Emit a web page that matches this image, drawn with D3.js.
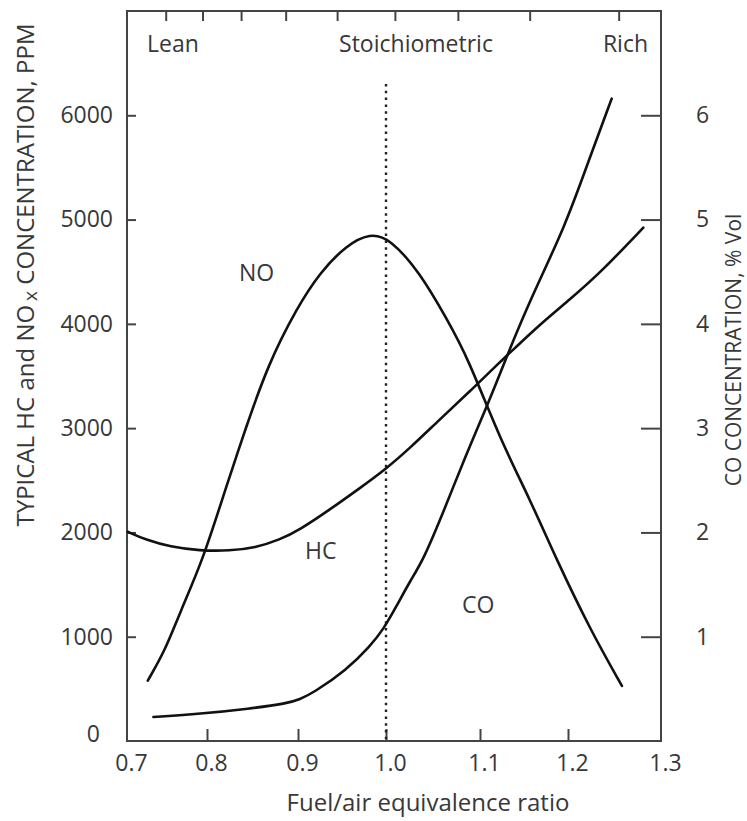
<!DOCTYPE html>
<html>
<head>
<meta charset="utf-8">
<script src="https://cdn.jsdelivr.net/npm/d3@7"></script>
<style>
  body { margin: 0; background: #fff; }
  svg text { font-family: "Open Sans", sans-serif; fill: #383838; }
</style>
</head>
<body>
<script>
// ---- data ----
const xTicks = [0.7, 0.8, 0.9, 1.0, 1.1, 1.2, 1.3];
const leftTicks = [0, 1000, 2000, 3000, 4000, 5000, 6000];
const rightTicks = [1, 2, 3, 4, 5, 6];
// unlabelled ticks along the top edge (equivalence ratio)
const topTicks = [0.749, 0.795, 0.838, 0.887, 0.945, 1.010, 1.077, 1.157, 1.255];

// NO, ppm
const noPhi = [0.726, 0.748, 0.766, 0.795, 0.820, 0.842, 0.867, 0.899, 0.925, 0.955, 0.982, 1.004, 1.036, 1.065, 1.087, 1.123, 1.157, 1.187, 1.224, 1.258];
const noPpm = [579, 874, 1229, 1738, 2410, 2986, 3610, 4157, 4493, 4755, 4870, 4820, 4493, 4042, 3677, 2890, 2314, 1738, 1066, 528];

// HC, ppm
const hcPhi = [0.701, 0.723, 0.754, 0.791, 0.825, 0.853, 0.880, 0.902, 0.936, 0.971, 0.999, 1.026, 1.057, 1.089, 1.123, 1.138, 1.168, 1.202, 1.234, 1.281];
const hcPpm = [2006, 1930, 1862, 1824, 1824, 1853, 1930, 2026, 2218, 2429, 2602, 2813, 3082, 3350, 3638, 3754, 3994, 4234, 4483, 4922];

// CO, % vol
const coPhi = [0.733, 0.791, 0.847, 0.888, 0.902, 0.917, 0.955, 0.982, 0.997, 1.011, 1.026, 1.040, 1.063, 1.084, 1.109, 1.130, 1.157, 1.197, 1.222, 1.247];
const coVol = [0.23, 0.26, 0.31, 0.36, 0.40, 0.46, 0.68, 0.91, 1.07, 1.29, 1.54, 1.74, 2.24, 2.72, 3.23, 3.68, 4.23, 4.94, 5.56, 6.16];

const stoich = 1.0;

// ---- layout ----
const width = 747, height = 821;
const plotLeft = 127, plotRight = 661, plotTop = 11, plotBottom = 741;

const svg = d3.select("body")
              .append("svg")
              .attr("width", width)
              .attr("height", height);

// the original's tick spacing is a little uneven, so map each labelled tick
const x = d3.scaleLinear()
            .domain(xTicks)
            .range([127, 207, 298, 386, 480, 568, 661]);

const y = d3.scaleLinear()
            .domain([0, 7000])
            .range([plotBottom, plotTop]);

const yCO = d3.scaleLinear()
              .domain([0, 7])
              .range([plotBottom, plotTop]);

const axisColor = "#444";
const tickFont = "23px";

// bottom axis
const xAxis = svg.append("g")
                 .attr("transform", `translate(0,${plotBottom})`)
                 .call(d3.axisBottom(x)
                         .tickValues(xTicks)
                         .tickSize(-12)
                         .tickPadding(14)
                         .tickFormat(d3.format(".1f")));
xAxis.selectAll(".tick line").filter(d => d === 0.7 || d === 1.3).remove();
xAxis.selectAll(".tick text").attr("dx", 4);

// left axis
const yAxis = svg.append("g")
                 .attr("transform", `translate(${plotLeft},0)`)
                 .call(d3.axisLeft(y)
                         .tickValues(leftTicks)
                         .tickSize(-9)
                         .tickPadding(14)
                         .tickFormat(d3.format("d")));
yAxis.selectAll(".tick line").filter(d => d === 0).remove();
yAxis.selectAll(".tick text").filter(d => d === 0).attr("dx", -13).attr("dy", "0em");

// right axis
const yAxisR = svg.append("g")
                  .attr("transform", `translate(${plotRight},0)`)
                  .call(d3.axisRight(yCO)
                          .tickValues(rightTicks)
                          .tickSize(-20)
                          .tickPadding(35)
                          .tickFormat(d3.format("d")));

svg.selectAll(".domain").remove();
svg.selectAll(".tick line").attr("stroke", axisColor).attr("stroke-width", 2);
svg.selectAll(".tick text")
   .style("font-size", tickFont)
   .attr("fill", "#383838");

// unlabelled ticks hanging from the top edge
svg.append("g")
   .selectAll("line")
   .data(topTicks)
   .enter()
   .append("line")
   .attr("x1", d => x(d))
   .attr("x2", d => x(d))
   .attr("y1", plotTop)
   .attr("y2", plotTop + 10)
   .attr("stroke", axisColor)
   .attr("stroke-width", 2);

// frame
svg.append("rect")
   .attr("x", plotLeft)
   .attr("y", plotTop)
   .attr("width", plotRight - plotLeft)
   .attr("height", plotBottom - plotTop)
   .attr("fill", "none")
   .attr("stroke", axisColor)
   .attr("stroke-width", 2);

// stoichiometric dotted line
svg.append("line")
   .attr("x1", x(stoich))
   .attr("x2", x(stoich))
   .attr("y1", 84)
   .attr("y2", plotBottom)
   .attr("stroke", "#222")
   .attr("stroke-width", 2.4)
   .attr("stroke-dasharray", "2.5,4.3");

// curves
const curveLine = (yScale) => d3.line()
                                .x(d => x(d[0]))
                                .y(d => yScale(d[1]))
                                .curve(d3.curveBasis);

const series = [
  { pts: d3.zip(noPhi, noPpm), scale: y },
  { pts: d3.zip(hcPhi, hcPpm), scale: y },
  { pts: d3.zip(coPhi, coVol), scale: yCO }
];

svg.append("g")
   .selectAll("path")
   .data(series)
   .enter()
   .append("path")
   .attr("d", d => curveLine(d.scale)(d.pts))
   .attr("fill", "none")
   .attr("stroke", "#111")
   .attr("stroke-width", 2.6)
   .attr("stroke-linecap", "round");

// region labels
const labels = [
  { text: "Lean", x: 147, y: 52, anchor: "start" },
  { text: "Stoichiometric", x: 416, y: 52, anchor: "middle" },
  { text: "Rich", x: 648, y: 52, anchor: "end" },
  { text: "NO", x: 239, y: 281, anchor: "start" },
  { text: "HC", x: 305, y: 559, anchor: "start" },
  { text: "CO", x: 462, y: 613, anchor: "start" }
];

svg.append("g")
   .selectAll("text")
   .data(labels)
   .enter()
   .append("text")
   .attr("x", d => d.x)
   .attr("y", d => d.y)
   .attr("text-anchor", d => d.anchor)
   .style("font-size", "23px")
   .text(d => d.text);

// axis titles
svg.append("text")
   .attr("x", 428)
   .attr("y", 811)
   .attr("text-anchor", "middle")
   .style("font-size", "24px")
   .text("Fuel/air equivalence ratio");

const leftTitle = svg.append("text")
                     .attr("transform", "translate(34,275) rotate(-90)")
                     .attr("text-anchor", "middle")
                     .style("font-size", "24px");
leftTitle.append("tspan").text("TYPICAL HC and NO");
leftTitle.append("tspan").attr("dx", 4).attr("dy", 3).style("font-size", "19px").text("x");
leftTitle.append("tspan").attr("dy", -3).text(" CONCENTRATION, PPM");

svg.append("text")
   .attr("transform", "translate(741,350) rotate(-90)")
   .attr("text-anchor", "middle")
   .style("font-size", "21px")
   .text("CO CONCENTRATION, % Vol");
</script>
</body>
</html>
